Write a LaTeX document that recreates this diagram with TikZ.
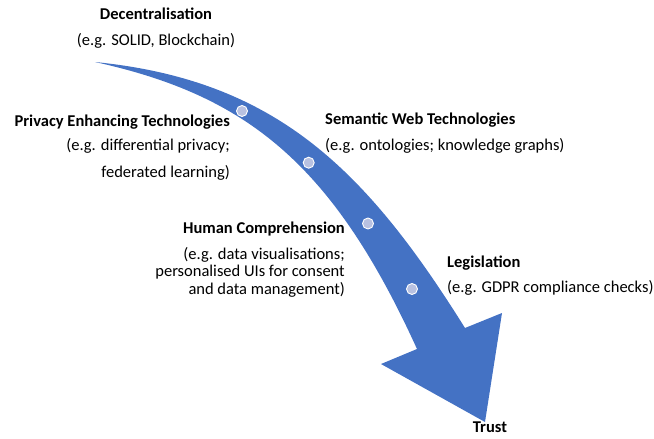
\documentclass[tikz,border=0pt]{standalone}
\usepackage{fontspec}
\setmainfont{Carlito}
\definecolor{arrowblue}{HTML}{4472C4}
\definecolor{dotfill}{HTML}{B8C1E1}
\begin{document}
\begin{tikzpicture}[x=1pt,y=-1pt,
  lbl/.style={inner sep=0pt,font=\fontsize{16.5}{18}\selectfont\bfseries},
  sub/.style={inner sep=0pt,font=\fontsize{16.5}{18}\selectfont},
  stepdot/.style={circle,fill=dotfill,draw=white,line width=0.9pt,minimum size=11pt,inner sep=0pt}]
\useasboundingbox (0,0) rectangle (654,439);
% arrow body
\fill[arrowblue] (95,62) .. controls (275,80) and (365,168) .. (465,328)
  -- (502,313) -- (485,422) -- (381,364) -- (417,349)
  .. controls (332,162) and (245,95) .. (95,62) -- cycle;
% dots
\node[stepdot] (d1) at (242,111) {};
\node[stepdot] (d2) at (308.7,162.7) {};
\node[stepdot] (d3) at (368,223.5) {};
\node[stepdot] (d4) at (412,289) {};
% labels
\node[lbl,anchor=mid] (dec) at (156,17) {Decentralisation};
\node[sub,anchor=mid] (decs) at (156,43) {(e.g. SOLID, Blockchain)};

\node[lbl,anchor=mid east] (pet) at (230,124) {Privacy Enhancing Technologies};
\node[sub,anchor=mid east] (pet1) at (230,148) {(e.g. differential privacy;};
\node[sub,anchor=mid east] (pet2) at (230,175) {federated learning)};

\node[lbl,anchor=mid west] (sw) at (325,122) {Semantic Web Technologies};
\node[sub,anchor=mid west] (sw1) at (325,148) {(e.g. ontologies; knowledge graphs)};

\node[lbl,anchor=mid east] (hc) at (345,231) {Human Comprehension};
\node[sub,anchor=mid east] (hc1) at (345,257) {(e.g. data visualisations;};
\node[sub,anchor=mid east] (hc2) at (345,274.5) {personalised UIs for consent};
\node[sub,anchor=mid east] (hc3) at (345,292) {and data management)};

\node[lbl,anchor=mid west] (leg) at (447,265) {Legislation};
\node[sub,anchor=mid west] (leg1) at (447,290) {(e.g. GDPR compliance checks)};

\node[lbl,anchor=mid] (trust) at (490,430) {Trust};
\end{tikzpicture}
\end{document}
